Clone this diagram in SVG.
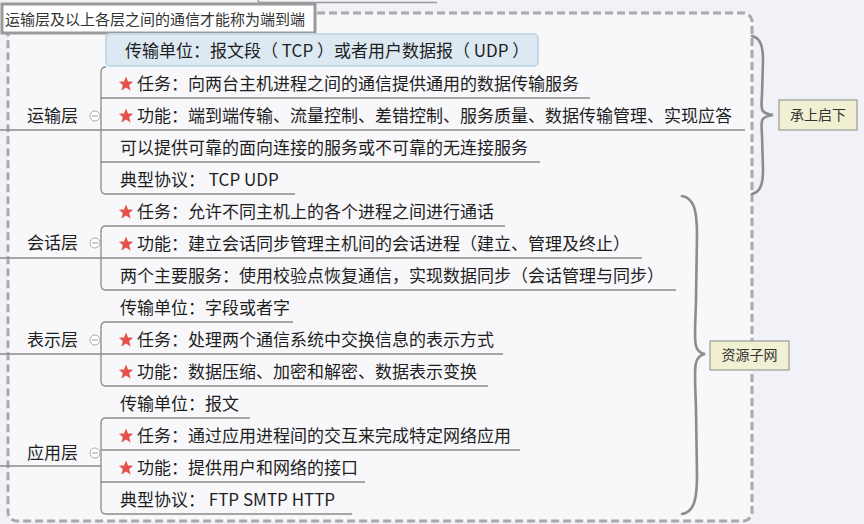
<svg xmlns="http://www.w3.org/2000/svg" width="864" height="524" viewBox="0 0 864 524">
<defs>
<style>
.t{font-family:"Noto Sans CJK SC","Noto Sans",sans-serif;font-size:17px;fill:#1e1e1e}
.lbl{font-family:"Noto Sans CJK SC","Noto Sans",sans-serif;font-size:14px;fill:#333;text-anchor:middle}
.ttl{font-family:"Noto Sans CJK SC","Noto Sans",sans-serif;font-size:15px;fill:#333}
.ln{fill:none;stroke:#8a8a8a;stroke-width:1.3}
.br{fill:none;stroke:#8c8c8c;stroke-width:2.6;stroke-linecap:round}
.st{fill:#e4504c}
.cc{fill:#fff;stroke:#aaa;stroke-width:1}
.cm{stroke:#999;stroke-width:1}
</style>
<polygon id="star" class="st" points="0,-7.5 2,-2.5 7.2,-2.3 3.2,1 4.5,6.5 0,3.4 -4.5,6.5 -3.2,1 -7.2,-2.3 -2,-2.5"/>
<g id="col"><circle class="cc" cx="0" cy="0" r="5"/><line class="cm" x1="-3" y1="0" x2="3" y2="0"/></g>
</defs>
<rect x="0" y="0" width="864" height="524" fill="#f1f2f8"/>
<path d="M258 0 Q258 2.5 262 2.5 H437" fill="none" stroke="#999" stroke-width="1.3"/>
<rect x="8" y="13" width="744" height="508" rx="9" fill="#f8f8fb" stroke="#aaa" stroke-width="3" stroke-dasharray="8,4"/>

<g id="connectors">
<path class="ln" d="M106 67 Q101 67 101 72 V189 Q101 194 106 194"/>
<path class="ln" d="M101 98 H590 M0 130 H745 M101 162 H540 M106 194 H295"/>
<path class="ln" d="M106 226 Q101 226 101 231 V285 Q101 290 106 290"/>
<path class="ln" d="M106 226 H505 M0 258 H642 M106 290 H676"/>
<path class="ln" d="M106 322 Q101 322 101 327 V381 Q101 386 106 386"/>
<path class="ln" d="M106 322 H293 M0 354 H503 M106 386 H488"/>
<path class="ln" d="M106 418 Q101 418 101 423 V509 Q101 514 106 514"/>
<path class="ln" d="M106 418 H250 M101 450 H520 M0 466 H101 M101 482 H365 M106 514 H352"/>
<path class="br" d="M752 36 C760 38 763 45 763 60 L762 95 C761 110 760 113 773 115 C760 117 761 120 762 135 L763 170 C763 185 760 192 752 194"/>
<path class="br" d="M682 196 C694 198 697 210 697 235 L696 300 C695 340 692 352 705 354 C692 356 695 370 696 410 L697 475 C697 500 694 512 682 514"/>
</g>

<g id="title">
<rect x="2" y="4" width="313" height="29" fill="#fff" stroke="#9a9a9a" stroke-width="3"/>
<text class="ttl" x="5" y="25">运输层及以上各层之间的通信才能称为端到端</text>
</g>

<g id="transport">
<text class="t" x="27" y="122">运输层</text>
<use href="#col" x="95" y="116"/>
</g>
<g id="t-unit">
<rect x="106" y="34" width="432" height="32" rx="4" fill="#dce9f3" stroke="#c6d9e8" stroke-width="2"/>
<text class="t" x="125" y="57">传输单位：报文段（ TCP ）或者用户数据报（ UDP ）</text>
</g>
<g id="t-task"><use href="#star" x="126" y="84"/><text class="t" x="137" y="90">任务：向两台主机进程之间的通信提供通用的数据传输服务</text></g>
<g id="t-func"><use href="#star" x="126" y="116"/><text class="t" x="137" y="122">功能：端到端传输、流量控制、差错控制、服务质量、数据传输管理、实现应答</text></g>
<g id="t-svc"><text class="t" x="120" y="154">可以提供可靠的面向连接的服务或不可靠的无连接服务</text></g>
<g id="t-proto"><text class="t" x="120" y="186">典型协议： TCP UDP</text></g>

<g id="session">
<text class="t" x="27" y="249">会话层</text>
<use href="#col" x="95" y="243"/>
</g>
<g id="s-task"><use href="#star" x="126" y="212"/><text class="t" x="137" y="218">任务：允许不同主机上的各个进程之间进行通话</text></g>
<g id="s-func"><use href="#star" x="126" y="244"/><text class="t" x="137" y="250">功能：建立会话同步管理主机间的会话进程（建立、管理及终止）</text></g>
<g id="s-svc"><text class="t" x="120" y="282">两个主要服务：使用校验点恢复通信，实现数据同步（会话管理与同步）</text></g>

<g id="presentation">
<text class="t" x="27" y="346">表示层</text>
<use href="#col" x="95" y="340"/>
</g>
<g id="p-unit"><text class="t" x="120" y="314">传输单位：字段或者字</text></g>
<g id="p-task"><use href="#star" x="126" y="340"/><text class="t" x="137" y="346">任务：处理两个通信系统中交换信息的表示方式</text></g>
<g id="p-func"><use href="#star" x="126" y="372"/><text class="t" x="137" y="378">功能：数据压缩、加密和解密、数据表示变换</text></g>

<g id="application">
<text class="t" x="27" y="459">应用层</text>
<use href="#col" x="95" y="453"/>
</g>
<g id="a-unit"><text class="t" x="120" y="410">传输单位：报文</text></g>
<g id="a-task"><use href="#star" x="126" y="436"/><text class="t" x="137" y="442">任务：通过应用进程间的交互来完成特定网络应用</text></g>
<g id="a-func"><use href="#star" x="126" y="468"/><text class="t" x="137" y="474">功能：提供用户和网络的接口</text></g>
<g id="a-proto"><text class="t" x="120" y="506">典型协议： FTP SMTP HTTP</text></g>

<g id="relay">
<rect x="779" y="100" width="78" height="30" fill="#f2f0d3" stroke="#888" stroke-width="1"/>
<text class="lbl" x="818" y="120">承上启下</text>
</g>
<g id="resource">
<rect x="710" y="341" width="79" height="29" fill="#f2f0d3" stroke="#888" stroke-width="1"/>
<text class="lbl" x="749.5" y="360">资源子网</text>
</g>
</svg>
